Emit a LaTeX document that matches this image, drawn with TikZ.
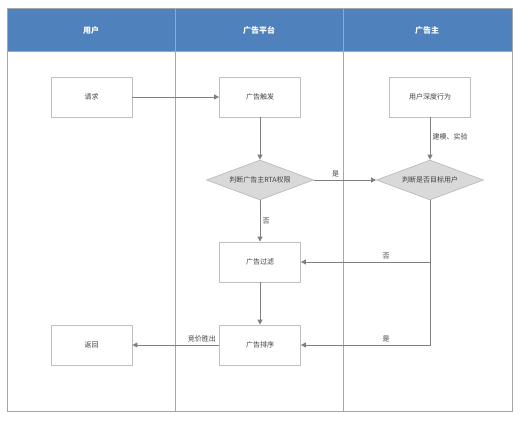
\documentclass[tikz,border=0pt]{standalone}
\usepackage{fontspec}
\setmainfont{Noto Sans CJK SC}
\usetikzlibrary{shapes.geometric,arrows.meta}
\definecolor{hdrblue}{RGB}{79,129,189}
\definecolor{lanegray}{RGB}{166,166,166}
\definecolor{boxgray}{RGB}{191,191,191}
\definecolor{linegray}{RGB}{128,128,128}
\definecolor{txtgray}{RGB}{64,64,64}
\tikzset{
    stepbox/.style={draw=boxgray,line width=0.8pt,fill=white,minimum width=81pt,minimum height=40pt,inner sep=0pt,text=txtgray,font=\fontsize{7}{8}\selectfont},
    decide/.style={diamond,draw=boxgray,line width=0.8pt,fill=boxgray!60,minimum width=107pt,minimum height=40pt,aspect=2.7,inner sep=0pt,text=txtgray,font=\fontsize{7}{8}\selectfont},
    flow/.style={draw=linegray,line width=1pt,-{Triangle[width=5pt,length=5pt]}},
    lbl/.style={text=txtgray,font=\fontsize{7}{8}\selectfont,inner sep=2pt},
    lane/.style={text=white,font=\fontsize{8}{9}\selectfont\bfseries}
}
\begin{document}
\begin{tikzpicture}[x=1pt,y=-1pt]
    \useasboundingbox (0,0) rectangle (528,423);
    %% Swimlanes
    \fill[hdrblue] (7,8) rectangle (512,51);
    \draw[lanegray,line width=0.7pt] (7,8) rectangle (512,411);
    \draw[lanegray,line width=0.7pt] (7,51) -- (512,51);
    \draw[lanegray,line width=0.7pt] (175,8) -- (175,411);
    \draw[lanegray,line width=0.7pt] (343,8) -- (343,411);
    \node[lane] (user) at (91,30) {用户};
    \node[lane] (platform) at (259,30) {广告平台};
    \node[lane] (advertiser) at (427,30) {广告主};
    %% Steps
    \node[stepbox] (request) at (91.5,97) {请求};
    \node[stepbox] (trigger) at (260,97) {广告触发};
    \node[stepbox] (behavior) at (430,97) {用户深度行为};
    \node[decide] (rta) at (260,180) {判断广告主RTA权限};
    \node[decide] (target) at (430,180) {判断是否目标用户};
    \node[stepbox] (filter) at (260,262) {广告过滤};
    \node[stepbox] (rank) at (260,345) {广告排序};
    \node[stepbox] (back) at (91.5,345) {返回};
    %% Flow
    \draw[flow] (request) -- (trigger);
    \draw[flow] (trigger) -- (rta);
    \draw[flow] (behavior) -- node[lbl,right,pos=0.45] {建模、实验} (target);
    \draw[flow] (rta) -- node[lbl,above,pos=0.35] {是} (target);
    \draw[flow] (rta) -- node[lbl,right] {否} (filter);
    \draw[flow] (target.south) |- node[lbl,above,pos=0.67] {否} (filter.east);
    \draw[flow] (target.south) |- node[lbl,above,pos=0.67] {是} (rank.east);
    \draw[flow] (filter) -- (rank);
    \draw[flow] (rank) -- node[lbl,above,pos=0.2] {竞价胜出} (back);
\end{tikzpicture}
\end{document}
